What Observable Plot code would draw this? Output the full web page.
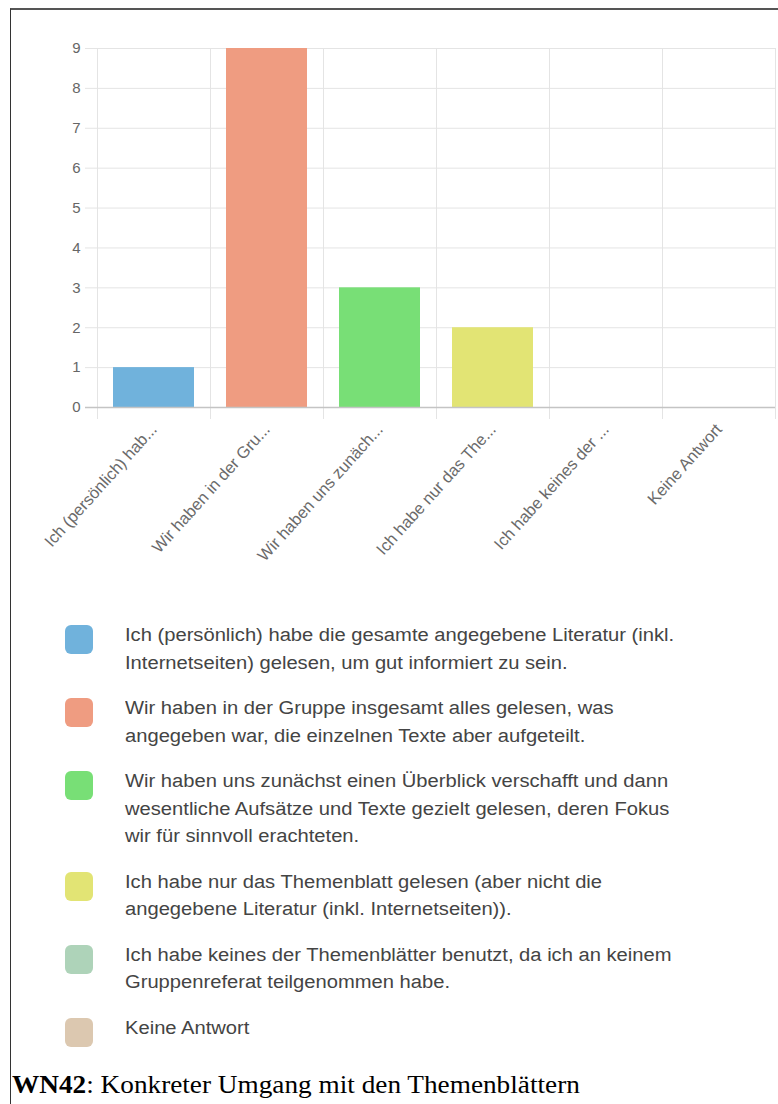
<!DOCTYPE html>
<html>
<head>
<meta charset="utf-8">
<script src="https://cdn.jsdelivr.net/npm/d3@7"></script>
<script src="https://cdn.jsdelivr.net/npm/@observablehq/plot@0.6"></script>
<style>
  html, body { margin: 0; padding: 0; background: #fff; }
  #page { position: relative; width: 778px; height: 1104px; overflow: hidden; }
  #frame { position: absolute; left: 10px; top: 8px; width: 800px; height: 1200px;
           border-top: 2px solid #555; border-left: 1px solid #333; box-sizing: border-box; }
  #chart { position: absolute; left: 0; top: 0; }
  #legend { position: absolute; left: 0; top: 622px; width: 778px;
            font-family: "Liberation Sans", Arial, sans-serif; font-size: 18px; color: #444; }
  .item { position: relative; padding-left: 125px; line-height: 27.5px; margin-bottom: 18px; }
  .txt { width: 500px; transform: scaleX(1.12); transform-origin: left top; }
  .sw { position: absolute; left: 65px; top: 3px; width: 28px; height: 29px; border-radius: 6px; }
  #caption { position: absolute; left: 12px; top: 1071px; font-family: "Liberation Serif", "Times New Roman", serif;
             font-size: 25px; color: #000; white-space: nowrap; transform: scaleX(1.09); transform-origin: left top; }
</style>
</head>
<body>
<div id="page">
  <div id="frame"></div>
  <div id="chart"></div>
  <div id="legend"></div>
  <div id="caption"><b>WN42</b>: Konkreter Umgang mit den Themenblättern</div>
</div>
<script>
const categories = [
  "Ich (persönlich) hab...",
  "Wir haben in der Gru...",
  "Wir haben uns zunäch...",
  "Ich habe nur das The...",
  "Ich habe keines der ...",
  "Keine Antwort"
];
const fullLabels = [
  "Ich (persönlich) habe die gesamte angegebene Literatur (inkl. Internetseiten) gelesen, um gut informiert zu sein.",
  "Wir haben in der Gruppe insgesamt alles gelesen, was angegeben war, die einzelnen Texte aber aufgeteilt.",
  "Wir haben uns zunächst einen Überblick verschafft und dann wesentliche Aufsätze und Texte gezielt gelesen, deren Fokus wir für sinnvoll erachteten.",
  "Ich habe nur das Themenblatt gelesen (aber nicht die angegebene Literatur (inkl. Internetseiten)).",
  "Ich habe keines der Themenblätter benutzt, da ich an keinem Gruppenreferat teilgenommen habe.",
  "Keine Antwort"
];
const values = [1, 9, 3, 2, 0, 0];
const colors = ["#70b2dc", "#ef9c81", "#78df76", "#e2e474", "#aed3b9", "#dcc8b0"];
const yTicks = [0, 1, 2, 3, 4, 5, 6, 7, 8, 9];

const data = categories.map((c, i) => ({ i, label: c, value: values[i], color: colors[i] }));
const bounds = d3.range(categories.length + 1);
const centers = d3.range(categories.length).map(i => i + 0.5);

const chart = Plot.plot({
  width: 778,
  height: 590,
  marginLeft: 97,
  marginRight: 3,
  marginTop: 48,
  marginBottom: 183,
  style: { fontFamily: "Liberation Sans, Arial, sans-serif", color: "#666", background: "transparent" },
  x: { type: "linear", domain: [0, categories.length] },
  y: { domain: [0, 9] },
  marks: [
    Plot.ruleY(yTicks.filter(d => d > 0), { y: d => d, x1: 0, x2: categories.length, insetLeft: -12, stroke: "#e4e4e4", strokeWidth: 1 }),
    Plot.ruleX(bounds, { x: d => d, y1: 9, y2: 0, insetBottom: -12, stroke: "#e4e4e4", strokeWidth: 1 }),
    Plot.rectY(data, { x1: d => d.i, x2: d => d.i + 1, y: "value", fill: "color", insetLeft: 16, insetRight: 16 }),
    Plot.ruleY([0], { x1: 0, x2: categories.length, insetLeft: -12, stroke: "#c4c4c4", strokeWidth: 1.5 }),
    Plot.axisY({ ticks: yTicks, tickSize: 0, tickPadding: 17, fontSize: 15, fill: "#666", label: null }),
    Plot.axisX({ ticks: centers, tickFormat: d => categories[Math.floor(d)], tickSize: 0, tickRotate: -48,
                 tickPadding: 19, fontSize: 16.5, fill: "#6a6a6a", label: null })
  ]
});
document.getElementById("chart").appendChild(chart);

const legend = d3.select("#legend");
fullLabels.forEach((t, i) => {
  const item = legend.append("div").attr("class", "item");
  item.append("div").attr("class", "sw").style("background", colors[i]);
  item.append("div").attr("class", "txt").text(t);
});
</script>
</body>
</html>
